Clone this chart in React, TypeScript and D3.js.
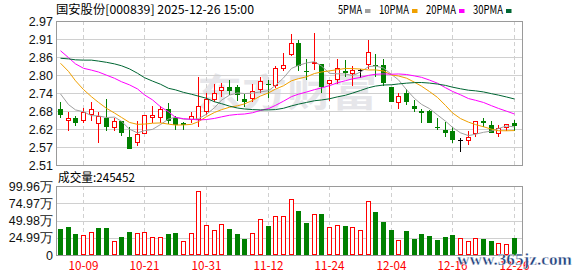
import React from 'react';
import * as d3 from 'd3';

const stockName = '国安股份';
const stockCode = '000839';
const stampTime = '2025-12-26 15:00';

const dates = [
  '09-26','09-29','09-30','10-09','10-10','10-13','10-14','10-15','10-16','10-17',
  '10-20','10-21','10-22','10-23','10-24','10-27','10-28','10-29','10-30','10-31',
  '11-03','11-04','11-05','11-06','11-07','11-10','11-11','11-12','11-13','11-14',
  '11-17','11-18','11-19','11-20','11-21','11-24','11-25','11-26','11-27','11-28',
  '12-01','12-02','12-03','12-04','12-05','12-08','12-09','12-10','12-11','12-12',
  '12-15','12-16','12-17','12-18','12-19','12-22','12-23','12-24','12-25','12-26',
];

const openP = [
  2.689,2.653,2.659,2.653,2.672,2.643,2.661,2.632,2.651,2.599,
  2.583,2.611,2.662,2.662,2.689,2.659,2.643,2.656,2.656,2.683,
  2.722,2.750,2.758,2.758,2.721,2.723,2.752,2.770,2.766,2.821,
  2.864,2.899,2.810,2.835,2.832,2.771,2.784,2.810,2.803,2.815,
  2.832,2.831,2.829,2.758,2.712,2.741,2.698,2.681,2.681,2.631,
  2.622,2.620,2.590,2.590,2.611,2.651,2.638,2.613,2.632,2.645,
];
const highP = [
  2.710,2.678,2.667,2.692,2.710,2.678,2.721,2.659,2.651,2.632,
  2.651,2.669,2.698,2.698,2.708,2.667,2.648,2.678,2.790,2.741,
  2.769,2.771,2.782,2.766,2.736,2.768,2.790,2.782,2.826,2.869,
  2.928,2.909,2.848,2.933,2.832,2.782,2.848,2.845,2.827,2.818,
  2.909,2.864,2.848,2.758,2.739,2.753,2.718,2.689,2.686,2.659,
  2.648,2.632,2.597,2.620,2.651,2.659,2.651,2.638,2.640,2.654,
];
const lowP = [
  2.661,2.620,2.635,2.643,2.652,2.581,2.620,2.620,2.603,2.562,
  2.572,2.609,2.643,2.643,2.640,2.622,2.622,2.643,2.632,2.670,
  2.712,2.728,2.734,2.714,2.696,2.712,2.739,2.723,2.755,2.811,
  2.857,2.811,2.782,2.815,2.739,2.714,2.769,2.792,2.762,2.787,
  2.816,2.792,2.762,2.712,2.690,2.702,2.680,2.643,2.643,2.622,
  2.600,2.581,2.552,2.574,2.600,2.632,2.611,2.598,2.620,2.620,
];
const closeP = [
  2.670,2.659,2.643,2.678,2.688,2.667,2.632,2.650,2.611,2.562,
  2.608,2.669,2.669,2.688,2.650,2.637,2.637,2.667,2.698,2.722,
  2.741,2.758,2.747,2.734,2.711,2.747,2.779,2.766,2.819,2.830,
  2.899,2.826,2.806,2.840,2.760,2.782,2.819,2.803,2.815,2.815,
  2.870,2.828,2.771,2.712,2.729,2.712,2.689,2.677,2.643,2.628,
  2.613,2.590,2.590,2.598,2.651,2.643,2.611,2.629,2.640,2.635,
];
// volume in 万 (10k) shares
const volume = [
  37.5,40.5,30.2,28.3,32.7,39.0,39.0,21.0,25.8,33.2,
  31.2,32.7,25.4,25.4,30.2,31.7,21.0,31.2,92.6,42.9,
  35.6,44.4,37.5,30.2,22.9,31.2,51.7,41.9,56.6,56.6,
  80.9,63.4,46.6,60.1,59.6,39.9,42.8,41.8,39.9,35.6,
  78.8,62.0,47.6,36.0,21.6,34.6,23.1,30.3,27.4,21.6,
  26.0,28.8,24.0,20.2,24.5,23.1,20.2,17.3,15.9,24.5452,
];

const ma5Head = [2.737, 2.703, 2.686, 2.680];
const ma10Head = [2.835, 2.809, 2.779, 2.751, 2.728, 2.710, 2.691, 2.676, 2.662];
const ma20Head = [2.875, 2.853, 2.833, 2.819, 2.813, 2.807, 2.797, 2.787, 2.776, 2.766,
  2.753, 2.734, 2.718, 2.696, 2.680, 2.662, 2.658, 2.656, 2.654];
const ma30Head = [2.851, 2.849, 2.846, 2.845, 2.845, 2.842, 2.838, 2.833, 2.827, 2.817,
  2.803, 2.789, 2.778, 2.768, 2.755, 2.750, 2.742, 2.736, 2.730, 2.723,
  2.712, 2.706, 2.698, 2.692, 2.689, 2.687, 2.686, 2.686, 2.687];

const maNames = ['5PMA', '10PMA', '20PMA', '30PMA'];
const maPeriods = [5, 10, 20, 30];
const maHeads = [ma5Head, ma10Head, ma20Head, ma30Head];
const maColors = ['#a0a0a0', '#f0a000', '#ff00ff', '#006633'];

const priceTicks = [2.51, 2.5675, 2.625, 2.6825, 2.74, 2.7975, 2.855, 2.9125, 2.97];
const priceTickLabels = ['2.51', '2.57', '2.62', '2.68', '2.74', '2.80', '2.86', '2.91', '2.97'];
const volTicks = [0, 24.99, 49.98, 74.97, 99.96];
const volTickLabels = ['0', '24.99万', '49.98万', '74.97万', '99.96万'];
const dateTickLabels = ['10-09', '10-21', '10-31', '11-12', '11-24', '12-04', '12-16', '12-26'];

const W = 578, H = 276;
const L = 56, R = 522;
const PT = 21, PB = 165;
const VT = 186, VB = 255;
const RED = '#ff0000';
const GREEN = '#008000';
const GRID = '#d0d0d0';
const BORDER = '#9a9a9a';
const NUM_FONT = '"Liberation Sans", Arial, sans-serif';
const CJK_FONT = '"Noto Sans CJK SC", "Noto Sans", sans-serif';

function movingAverage(n: number, head: number[]) {
  return closeP.map((_, i) => {
    if (i < n - 1) return head[i];
    const s = d3.sum(closeP.slice(i - n + 1, i + 1));
    return s / n;
  });
}

export default function App() {
  const idx = dates.map((_, i) => i);
  const xb = d3.scaleBand<number>().domain(idx).range([L, 517.6]);
  const cx = (i: number) => Math.round((xb(i) as number) + xb.bandwidth() / 2);
  const y = d3.scaleLinear().domain([2.51, 2.97]).range([PB, PT]);
  const yv = d3.scaleLinear().domain([0, 99.96]).range([VB, VT]);

  const mas = maPeriods.map((n, k) => movingAverage(n, maHeads[k]));
  const line = d3.line<number>().x((_, i) => cx(i) + 0.5).y((v) => y(v));

  const tickIdx = dateTickLabels.map((d) => dates.indexOf(d));

  const volUp = closeP.map((c, i) => (i === 0 ? c >= openP[0] : c >= closeP[i - 1]));

  // legend layout
  let lx = 338;
  const legendItems = maNames.map((name, k) => {
    const tw = name.length * 6;
    const item = { name, x: lx, tw, sq: lx + tw + 3, color: maColors[k] };
    lx += tw + 17;
    return item;
  });

  return (
    <svg width={W} height={H} style={{ position: 'absolute', left: 0, top: 0, background: '#fff' }}>
      <rect x={0} y={0} width={W} height={H} fill="#fff" />
      {/* title */}
      <text x={56} y={13.5} fontFamily={CJK_FONT} fontSize={12} fill="#000" textLength={198} lengthAdjust="spacingAndGlyphs">
        {`${stockName}[${stockCode}] ${stampTime}`}
      </text>
      {legendItems.map((it) => (
        <g key={it.name}>
          <text x={it.x} y={13.5} fontFamily={CJK_FONT} fontSize={12} fill="#000" textLength={it.tw} lengthAdjust="spacingAndGlyphs">{it.name}</text>
          <rect x={it.sq} y={9} width={5.5} height={4} fill={it.color} />
        </g>
      ))}

      {/* watermark */}
      <text x={197} y={106} fontFamily={CJK_FONT} fontWeight="bold" fontSize={38} fill="#e6e6ea" textLength={180} lengthAdjust="spacingAndGlyphs">东方财富</text>

      {/* price grid */}
      {priceTicks.map((t, k) => (
        <g key={'pt' + k}>
          <line x1={L} x2={R} y1={Math.round(y(t)) + 0.5} y2={Math.round(y(t)) + 0.5} stroke={GRID} />
          <text x={53} y={y(t)} dy="0.36em" textAnchor="end" fontFamily={NUM_FONT} fontSize={12.5} fill="#111">{priceTickLabels[k]}</text>
        </g>
      ))}
      {tickIdx.map((i) => (
        <line key={'pv' + i} x1={cx(i) + 0.5} x2={cx(i) + 0.5} y1={PT} y2={PB} stroke={GRID} strokeDasharray="4,3" />
      ))}
      <rect x={L + 0.5} y={PT + 0.5} width={R - L} height={PB - PT} fill="none" stroke={BORDER} />

      {/* candles */}
      {idx.map((i) => {
        const o = openP[i], c = closeP[i], h = highP[i], l = lowP[i];
        const x = cx(i);
        const top = Math.round(y(Math.max(o, c)));
        const bot = Math.round(y(Math.min(o, c)));
        const yh = Math.round(y(h));
        const yl = Math.round(y(l));
        if (c > o) {
          return (
            <g key={'c' + i}>
              <line x1={x + 0.5} x2={x + 0.5} y1={yh} y2={top} stroke={RED} />
              <line x1={x + 0.5} x2={x + 0.5} y1={bot} y2={yl} stroke={RED} />
              <rect x={x - 1.5} y={top + 0.5} width={4} height={Math.max(bot - top, 1)} fill="#fff" stroke={RED} />
            </g>
          );
        }
        const col = c < o ? GREEN : '#000';
        return (
          <g key={'c' + i}>
            <line x1={x + 0.5} x2={x + 0.5} y1={yh} y2={yl} stroke={col} />
            <rect x={x - 2} y={top} width={5} height={Math.max(bot - top, 1)} fill={col} />
          </g>
        );
      })}

      {/* moving averages */}
      {mas.map((m, k) => (
        <path key={'ma' + k} d={line(m) as string} fill="none" stroke={maColors[k]} strokeWidth={1} />
      ))}

      {/* volume panel */}
      <text x={58} y={182} fontFamily={CJK_FONT} fontSize={12} fill="#000" textLength={77} lengthAdjust="spacingAndGlyphs">
        {`成交量:${Math.round(volume[volume.length - 1] * 10000)}`}
      </text>
      {volTicks.map((t, k) => (
        <g key={'vt' + k}>
          {k > 0 && k < volTicks.length - 1 && (
            <line x1={L} x2={R} y1={Math.round(yv(t)) + 0.5} y2={Math.round(yv(t)) + 0.5} stroke={GRID} />
          )}
          <text x={53} y={yv(t)} dy="0.36em" textAnchor="end" fontFamily={NUM_FONT} fontSize={12.5} fill="#111">{volTickLabels[k]}</text>
        </g>
      ))}
      {tickIdx.map((i) => (
        <line key={'vv' + i} x1={cx(i) + 0.5} x2={cx(i) + 0.5} y1={VT} y2={VB} stroke={GRID} strokeDasharray="4,3" />
      ))}
      {idx.map((i) => {
        const x = cx(i);
        const t = Math.round(yv(volume[i]));
        if (volUp[i]) {
          return <rect key={'v' + i} x={x - 1.5} y={t + 0.5} width={4} height={VB - t - 1} fill="#fff" stroke={RED} />;
        }
        return <rect key={'v' + i} x={x - 2} y={t} width={5} height={VB - t} fill={GREEN} />;
      })}
      <rect x={L + 0.5} y={VT + 0.5} width={R - L} height={VB - VT} fill="none" stroke={BORDER} />

      {/* date labels */}
      {tickIdx.map((i) => (
        <text key={'dl' + i} x={cx(i) + 0.5} y={270} textAnchor="middle" fontFamily={CJK_FONT} fontSize={12} fill={RED} textLength={30} lengthAdjust="spacingAndGlyphs">{dates[i]}</text>
      ))}

      {/* site watermark */}
      <text x={457} y={265} fontFamily='"Liberation Serif", serif' fontWeight="bold" fontSize={17} fill="#203f7c" stroke="#fff" strokeWidth={0.4} textLength={115} lengthAdjust="spacingAndGlyphs">www.365jz.com</text>
    </svg>
  );
}
